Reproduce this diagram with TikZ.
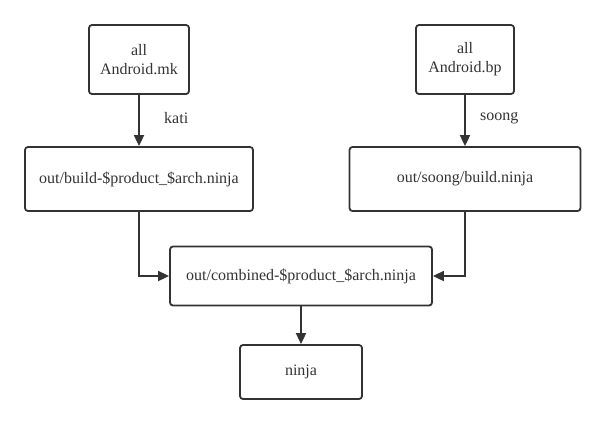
\documentclass[tikz,border=0pt]{standalone}
\usepackage{fontspec}
\setmainfont{Liberation Serif}
\usetikzlibrary{arrows.meta}
\definecolor{ink}{HTML}{333333}
\begin{document}
\begin{tikzpicture}[x=1bp,y=-1bp,
  box/.style={draw=ink,line width=1.8bp,rounded corners=3bp,inner sep=0pt,align=center,font=\fontsize{16bp}{19bp}\selectfont,text=ink},
  conn/.style={draw=ink,line width=1.8bp,-{Triangle[length=11bp,width=10bp]}},
  lbl/.style={font=\fontsize{16bp}{19bp}\selectfont,text=ink}]
\useasboundingbox (0,0) rectangle (606,425);
\node[box,minimum width=100bp,minimum height=69bp] (mk) at (139,59.5) {all\\Android.mk};
\node[box,minimum width=228bp,minimum height=64bp] (build) at (139,179) {out/build-\$product\_\$arch.ninja};
\node[box,minimum width=98bp,minimum height=69bp] (bp) at (465,59.5) {all\\Android.bp};
\node[box,minimum width=231bp,minimum height=64bp] (soong) at (465,179) {out/soong/build.ninja};
\node[box,minimum width=262bp,minimum height=59bp] (comb) at (301,276) {out/combined-\$product\_\$arch.ninja};
\node[box,minimum width=122bp,minimum height=54bp] (ninja) at (301,372) {ninja};
\draw[conn] (mk) -- node[lbl,right=21bp,pos=0.45] {kati} (build);
\draw[conn] (bp) -- node[lbl,right=11bp,pos=0.45] {soong} (soong);
\draw[conn] (build.south) |- (comb.west);
\draw[conn] (soong.south) |- (comb.east);
\draw[conn] (comb) -- (ninja);
\end{tikzpicture}
\end{document}
